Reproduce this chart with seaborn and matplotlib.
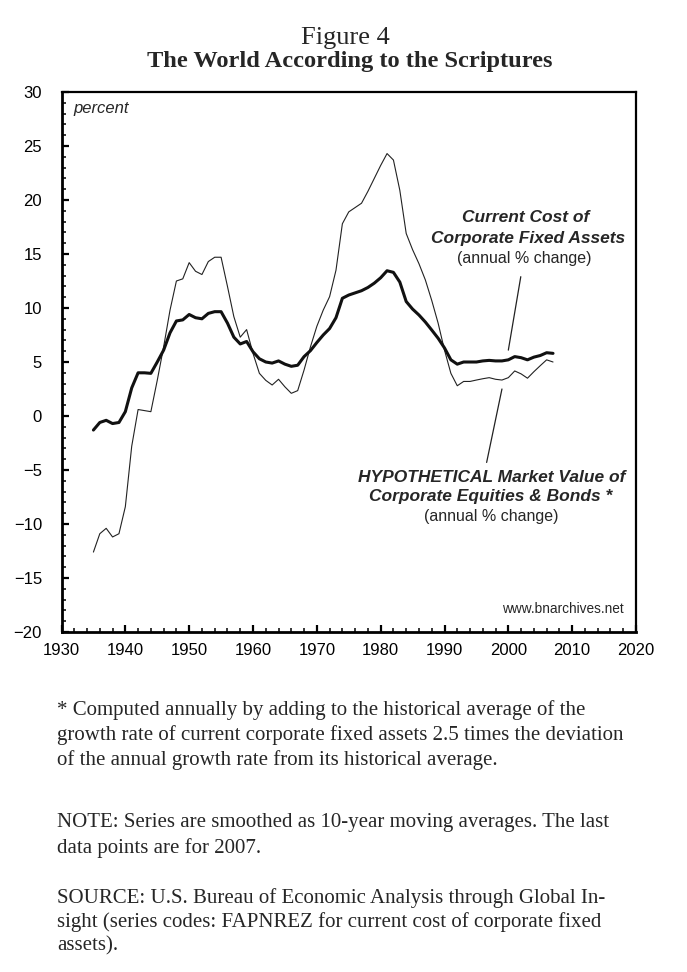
import numpy as np
import pandas as pd
import matplotlib
matplotlib.use("Agg")
import matplotlib.pyplot as plt
from matplotlib.ticker import MultipleLocator
import seaborn as sns

years = list(range(1935, 2008))
current_cost = [-1.3, -0.6, -0.4, -0.7, -0.6, 0.4, 2.6, 4.0, 4.0, 3.95,
                5.0, 6.1, 7.7, 8.8, 8.9, 9.4, 9.1, 9.0, 9.5, 9.66,
                9.66, 8.6, 7.3, 6.67, 6.9, 5.95, 5.3, 5.0, 4.9, 5.1,
                4.8, 4.6, 4.7, 5.5, 6.05, 6.8, 7.5, 8.1, 9.1, 10.9,
                11.2, 11.4, 11.6, 11.9, 12.3, 12.8, 13.45, 13.3, 12.4, 10.6,
                9.9, 9.35, 8.7, 7.96, 7.2, 6.3, 5.2, 4.8, 5.0, 5.0,
                5.0, 5.1, 5.15, 5.1, 5.1, 5.2, 5.5, 5.4, 5.2, 5.45,
                5.6, 5.86, 5.8]
hypothetical = [-12.6, -10.9, -10.4, -11.2, -10.9, -8.4, -2.8, 0.6, 0.5, 0.4,
                3.3, 6.4, 9.8, 12.5, 12.7, 14.2, 13.4, 13.1, 14.3, 14.7,
                14.7, 12.0, 9.2, 7.3, 8.0, 5.8, 3.95, 3.3, 2.87, 3.4,
                2.7, 2.1, 2.35, 4.26, 6.4, 8.3, 9.8, 11.05, 13.5, 17.8,
                18.9, 19.3, 19.7, 20.8, 22.0, 23.2, 24.3, 23.7, 20.9, 16.9,
                15.4, 14.1, 12.6, 10.7, 8.6, 6.1, 3.95, 2.8, 3.2, 3.2,
                3.33, 3.45, 3.55, 3.4, 3.33, 3.55, 4.17, 3.9, 3.5, 4.1,
                4.66, 5.2, 5.0]

x_ticks = list(range(1930, 2021, 10))
y_ticks = list(range(-20, 31, 5))

sns.set_style("ticks")
plt.rcParams['font.family'] = ['Liberation Sans', 'DejaVu Sans']

W, H = 687, 972
fig = plt.figure(figsize=(W / 100, H / 100), dpi=100)

def fx(px):
    return px / W

def fy(py):
    return 1 - py / H

left, right, top, bottom = 61.5, 636, 92, 632
ax = fig.add_axes([fx(left), fy(bottom), fx(right) - fx(left), (bottom - top) / H])

df = pd.DataFrame({"year": years, "cost": current_cost, "hyp": hypothetical})
sns.lineplot(data=df, x="year", y="hyp", ax=ax, color="#222222", linewidth=0.8)
sns.lineplot(data=df, x="year", y="cost", ax=ax, color="#111111", linewidth=2.2)

ax.set_xlim(1930, 2020)
ax.set_ylim(-20, 30)
ax.set_xlabel("")
ax.set_ylabel("")
ax.set_xticks(x_ticks)
ax.set_xticklabels([str(t) for t in x_ticks])
ax.set_yticks(y_ticks)
ax.set_yticklabels([("\u2212" + str(-t)) if t < 0 else str(t) for t in y_ticks])
ax.xaxis.set_minor_locator(MultipleLocator(2))
ax.yaxis.set_minor_locator(MultipleLocator(1))
ax.tick_params(axis="both", which="major", direction="in", length=5, width=1.6,
               labelsize=12, colors="black")
ax.tick_params(axis="both", which="minor", direction="in", length=3, width=1.3)
ax.tick_params(axis="y", which="both", right=False, pad=14)
ax.tick_params(axis="x", which="both", top=False, pad=8)
for s in ax.spines.values():
    s.set_visible(True)
    s.set_color("black")
    s.set_linewidth(1.6)
ax.spines["left"].set_linewidth(2.0)
ax.spines["bottom"].set_linewidth(2.0)

# leader lines
ax.annotate("", xy=(2000.0, 6.1), xytext=(2001.95, 12.9),
            arrowprops=dict(arrowstyle="-", color="#222222", lw=0.9,
                            shrinkA=0, shrinkB=0))
ax.annotate("", xy=(1996.6, -4.3), xytext=(1999.0, 2.5),
            arrowprops=dict(arrowstyle="-", color="#222222", lw=0.9,
                            shrinkA=0, shrinkB=0))

# texts inside the axes
fig.text(fx(73), fy(108), "percent", style="italic", fontsize=12,
         ha="left", va="center")
fig.text(fx(624), fy(609), "www.bnarchives.net", fontsize=9.8,
         ha="right", va="center")
fig.text(fx(526), fy(217), "Current Cost of", style="italic", weight="bold",
         fontsize=12.5, ha="center", va="center")
fig.text(fx(528), fy(238), "Corporate Fixed Assets", style="italic", weight="bold",
         fontsize=12.5, ha="center", va="center")
fig.text(fx(524), fy(258), "(annual % change)", fontsize=11.5,
         ha="center", va="center")
fig.text(fx(492), fy(477), "HYPOTHETICAL Market Value of", style="italic",
         weight="bold", fontsize=12.5, ha="center", va="center")
fig.text(fx(491), fy(496), "Corporate Equities & Bonds *", style="italic",
         weight="bold", fontsize=12.5, ha="center", va="center")
fig.text(fx(491), fy(517), "(annual % change)", fontsize=11.5,
         ha="center", va="center")

serif = ['Liberation Serif', 'DejaVu Serif']
fig.text(fx(345), fy(38), "Figure 4", family=serif, fontsize=19,
         ha="center", va="center")
fig.text(fx(350), fy(61), "The World According to the Scriptures", family=serif,
         weight="bold", fontsize=17.6, ha="center", va="center")

notes = [
    (710, "* Computed annually by adding to the historical average of the"),
    (735, "growth rate of current corporate fixed assets 2.5 times the deviation"),
    (760, "of the annual growth rate from its historical average."),
    (823, "NOTE: Series are smoothed as 10-year moving averages. The last"),
    (848, "data points are for 2007."),
    (898, "SOURCE: U.S. Bureau of Economic Analysis through Global In-"),
    (922, "sight (series codes: FAPNREZ for current cost of corporate fixed"),
    (946, "assets)."),
]
for py, t in notes:
    fig.text(fx(57), fy(py), t, family=serif, fontsize=15, ha="left", va="center")

fig.savefig("out.png", dpi=100)
